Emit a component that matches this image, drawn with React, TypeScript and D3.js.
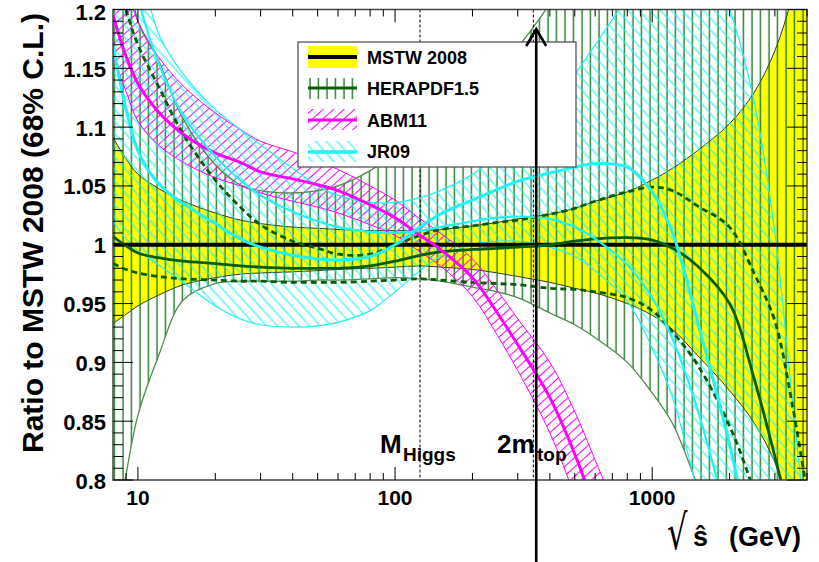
import React from "react";
import * as d3 from "d3";

// Partonic centre-of-mass energy grid (GeV)
const sqrtS = [8, 9, 10, 12, 15, 20, 25, 30, 40, 50, 60, 80, 100, 125, 150, 200, 250, 300, 400, 500, 600, 800, 1000, 1200, 1500, 2000, 2500, 3000, 3500, 4000];

// MSTW 2008 (reference set) 68% C.L. band
const mstwUpper = [1.091, 1.073, 1.06, 1.048, 1.037, 1.027, 1.021, 1.018, 1.015, 1.014, 1.013, 1.012, 1.012, 1.012, 1.013, 1.016, 1.019, 1.022, 1.026, 1.031, 1.037, 1.045, 1.055, 1.065, 1.08, 1.103, 1.13, 1.165, 1.21, 1.26];
const mstwLower = [0.933, 0.941, 0.948, 0.957, 0.966, 0.972, 0.975, 0.976, 0.977, 0.978, 0.979, 0.98, 0.981, 0.982, 0.981, 0.979, 0.976, 0.973, 0.968, 0.963, 0.959, 0.95, 0.94, 0.928, 0.906, 0.876, 0.848, 0.815, 0.77, 0.72];

// HERAPDF1.5: total band, central value, experimental band (dashed)
const herapdfUpper = [1.32, 1.25, 1.19, 1.157, 1.107, 1.068, 1.051, 1.046, 1.044, 1.046, 1.05, 1.063, 1.078, 1.097, 1.112, 1.132, 1.15, 1.168, 1.205, 1.24, 1.28, 1.33, 1.38, 1.42, 1.46, 1.5, 1.5, 1.5, 1.5, 1.5];
const herapdfLower = [0.74, 0.805, 0.855, 0.905, 0.953, 0.967, 0.969, 0.969, 0.969, 0.97, 0.97, 0.971, 0.972, 0.971, 0.969, 0.964, 0.96, 0.955, 0.942, 0.932, 0.921, 0.9, 0.874, 0.848, 0.795, 0.72, 0.65, 0.6, 0.55, 0.5];
const herapdfCentral = [1.007, 0.999, 0.993, 0.989, 0.986, 0.984, 0.982, 0.981, 0.98, 0.98, 0.98, 0.982, 0.986, 0.991, 0.994, 0.996, 0.997, 0.998, 1.0, 1.003, 1.005, 1.006, 1.004, 0.997, 0.982, 0.95, 0.885, 0.82, 0.76, 0.7];
const herapdfExpUpper = [1.25, 1.2, 1.17, 1.135, 1.094, 1.055, 1.032, 1.017, 1.003, 0.997, 0.992, 0.992, 1.0, 1.008, 1.013, 1.016, 1.019, 1.021, 1.026, 1.031, 1.037, 1.045, 1.049, 1.046, 1.033, 1.015, 0.975, 0.935, 0.865, 0.79];
const herapdfExpLower = [0.984, 0.979, 0.976, 0.973, 0.971, 0.97, 0.969, 0.969, 0.968, 0.968, 0.968, 0.969, 0.97, 0.971, 0.97, 0.968, 0.967, 0.966, 0.963, 0.962, 0.96, 0.955, 0.944, 0.926, 0.898, 0.846, 0.79, 0.74, 0.7, 0.65];

// ABM11
const abmCentral = [1.195, 1.16, 1.137, 1.113, 1.094, 1.078, 1.07, 1.062, 1.056, 1.051, 1.046, 1.034, 1.023, 1.008, 0.996, 0.972, 0.942, 0.915, 0.87, 0.822, 0.775, 0.7, 0.64, 0.6, 0.55, 0.5, 0.45, 0.4, 0.35, 0.3];
const abmUpper = [1.26, 1.22, 1.19, 1.16, 1.135, 1.112, 1.098, 1.088, 1.079, 1.071, 1.064, 1.05, 1.038, 1.022, 1.01, 0.988, 0.961, 0.937, 0.9, 0.858, 0.817, 0.75, 0.69, 0.64, 0.6, 0.55, 0.5, 0.45, 0.4, 0.35];
const abmLower = [1.16, 1.13, 1.105, 1.085, 1.07, 1.057, 1.05, 1.044, 1.037, 1.032, 1.027, 1.017, 1.008, 0.994, 0.982, 0.956, 0.923, 0.893, 0.84, 0.786, 0.733, 0.65, 0.6, 0.55, 0.5, 0.45, 0.4, 0.35, 0.3, 0.25];

// JR09
const jr09Upper = [1.4, 1.3, 1.25, 1.18, 1.145, 1.115, 1.098, 1.085, 1.065, 1.05, 1.042, 1.036, 1.036, 1.04, 1.046, 1.06, 1.075, 1.09, 1.12, 1.145, 1.17, 1.21, 1.24, 1.26, 1.26, 1.2, 1.12, 1.01, 0.87, 0.75];
const jr09Lower = [1.02, 1.005, 0.995, 0.983, 0.968, 0.948, 0.937, 0.932, 0.93, 0.931, 0.934, 0.944, 0.96, 0.978, 0.99, 1.0, 1.003, 1.003, 0.998, 0.99, 0.978, 0.952, 0.912, 0.87, 0.79, 0.68, 0.6, 0.55, 0.5, 0.45];
const jr09Central = [1.17, 1.115, 1.08, 1.052, 1.035, 1.018, 1.005, 0.998, 0.991, 0.988, 0.987, 0.99, 1.0, 1.015, 1.026, 1.038, 1.047, 1.054, 1.061, 1.066, 1.069, 1.066, 1.045, 1.01, 0.935, 0.83, 0.73, 0.65, 0.6, 0.55];
const jr09Alt = [1.32, 1.26, 1.21, 1.155, 1.11, 1.075, 1.055, 1.042, 1.028, 1.02, 1.015, 1.011, 1.01, 1.012, 1.015, 1.02, 1.023, 1.024, 1.022, 1.015, 1.005, 0.983, 0.955, 0.92, 0.86, 0.76, 0.68, 0.6, 0.55, 0.5];

// Axis ticks and labels
const xTickLabels = [10, 100, 1000];
const xMinorTicks = [9, 20, 30, 40, 50, 60, 70, 80, 90, 200, 300, 400, 500, 600, 700, 800, 900, 2000, 3000, 4000];
const yMajorTicks = [0.8, 0.85, 0.9, 0.95, 1, 1.05, 1.1, 1.15, 1.2];
const yTickLabels = ["0.8", "0.85", "0.9", "0.95", "1", "1.05", "1.1", "1.15", "1.2"];

// Reference masses
const mHiggs = 125;
const twoMtop = 345;
const arrowEnergy = 354;

const legendEntries = ["MSTW 2008", "HERAPDF1.5", "ABM11", "JR09"];

const W = 819;
const H = 562;
const PL = 113, PR = 807, PT = 9.5, PB = 480;
const FONT = "'Liberation Sans', Arial, Helvetica, sans-serif";

const GREEN_HATCH = "#157215";
const GREEN_EDGE = "#4f8a4f";
const GREEN_LINE = "#0a5c0a";
const MAGENTA = "#ff00ff";
const CYAN = "#22f2f2";

export default function App() {
  const x = d3.scaleLog().domain([8, 4000]).range([PL, PR]);
  const y = d3.scaleLinear().domain([0.8, 1.2]).range([PB, PT]);
  const idx = d3.range(sqrtS.length);
  const curve = d3.curveCatmullRom.alpha(0.5);

  const line = (vals: number[]) =>
    d3.line<number>().x((i) => x(sqrtS[i])).y((i) => y(vals[i])).curve(curve)(idx) || "";
  const band = (lo: number[], hi: number[]) =>
    d3.area<number>().x((i) => x(sqrtS[i])).y0((i) => y(lo[i])).y1((i) => y(hi[i])).curve(curve)(idx) || "";

  const one = y(1);
  const ax = x(arrowEnergy);

  return (
    <svg width={W} height={H} style={{ position: "absolute", left: 0, top: 0, background: "#fff" }} fontFamily={FONT}>
      <defs>
        <clipPath id="plotClip">
          <rect x={PL} y={PT} width={PR - PL} height={PB - PT} />
        </clipPath>
        <pattern id="hatchGreen" patternUnits="userSpaceOnUse" width={8.5} height={10}>
          <line x1={4} y1={0} x2={4} y2={10} stroke={GREEN_HATCH} strokeWidth={1.3} />
        </pattern>
        <pattern id="hatchCyan" patternUnits="userSpaceOnUse" width={10} height={8} patternTransform="rotate(48)">
          <line x1={0} y1={4} x2={10} y2={4} stroke={CYAN} strokeWidth={1.1} />
        </pattern>
        <pattern id="hatchMagenta" patternUnits="userSpaceOnUse" width={10} height={7} patternTransform="rotate(-42)">
          <line x1={0} y1={3.5} x2={10} y2={3.5} stroke={MAGENTA} strokeWidth={1} />
        </pattern>
      </defs>

      <g clipPath="url(#plotClip)">
        {/* MSTW 2008 band */}
        <path d={band(mstwLower, mstwUpper)} fill="#ffff00" />
        <path d={line(mstwUpper)} fill="none" stroke="#333" strokeWidth={1} />
        <path d={line(mstwLower)} fill="none" stroke="#333" strokeWidth={1} />

        {/* hatched bands */}
        <path d={band(herapdfLower, herapdfUpper)} fill="url(#hatchGreen)" />
        <path d={band(abmLower, abmUpper)} fill="url(#hatchMagenta)" />
        <path d={band(jr09Lower, jr09Upper)} fill="url(#hatchCyan)" />

        {/* band edges */}
        <path d={line(herapdfUpper)} fill="none" stroke={GREEN_EDGE} strokeWidth={1.3} />
        <path d={line(herapdfLower)} fill="none" stroke={GREEN_EDGE} strokeWidth={1.3} />
        <path d={line(abmUpper)} fill="none" stroke={MAGENTA} strokeWidth={1} />
        <path d={line(abmLower)} fill="none" stroke={MAGENTA} strokeWidth={1} />
        <path d={line(jr09Upper)} fill="none" stroke={CYAN} strokeWidth={1.2} />
        <path d={line(jr09Lower)} fill="none" stroke={CYAN} strokeWidth={1.2} />

        {/* MSTW central value */}
        <line x1={PL} x2={PR} y1={one} y2={one} stroke="#000" strokeWidth={4} />

        {/* reference masses */}
        {[mHiggs, twoMtop].map((m) => (
          <line key={m} x1={x(m)} x2={x(m)} y1={PT} y2={PB} stroke="#000" strokeWidth={1} strokeDasharray="3,2" />
        ))}

        {/* central values */}
        <path d={line(herapdfExpUpper)} fill="none" stroke={GREEN_LINE} strokeWidth={2.8} strokeDasharray="6,4" />
        <path d={line(herapdfExpLower)} fill="none" stroke={GREEN_LINE} strokeWidth={2.8} strokeDasharray="6,4" />
        <path d={line(herapdfCentral)} fill="none" stroke={GREEN_LINE} strokeWidth={2.8} />
        <path d={line(abmCentral)} fill="none" stroke={MAGENTA} strokeWidth={3} />
        <path d={line(jr09Alt)} fill="none" stroke={CYAN} strokeWidth={2.2} />
        <path d={line(jr09Central)} fill="none" stroke={CYAN} strokeWidth={3} />
      </g>

      {/* frame */}
      <rect x={PL} y={PT} width={PR - PL} height={PB - PT} fill="none" stroke="#444" strokeWidth={1.5} />

      {/* x ticks, bottom and top; y ticks, left and right */}
      <g stroke="#000" strokeWidth={1}>
        {xTickLabels.map((t) => (
          <g key={"M" + t}>
            <line x1={x(t)} x2={x(t)} y1={PB} y2={PB - 13} />
            <line x1={x(t)} x2={x(t)} y1={PT} y2={PT + 13} />
          </g>
        ))}
        {xMinorTicks.map((t) => (
          <g key={"m" + t}>
            <line x1={x(t)} x2={x(t)} y1={PB} y2={PB - 7} />
            <line x1={x(t)} x2={x(t)} y1={PT} y2={PT + 7} />
          </g>
        ))}
        {d3.range(80, 121).map((k) => {
          const yy = y(k / 100);
          const len = k % 5 === 0 ? 20 : 10;
          return (
            <g key={"y" + k}>
              <line x1={PL} x2={PL + len} y1={yy} y2={yy} />
              <line x1={PR} x2={PR - len} y1={yy} y2={yy} />
            </g>
          );
        })}
      </g>

      {/* tick labels */}
      <g fontWeight="bold" fontSize={22} fill="#000">
        {yMajorTicks.map((t, i) => (
          <text key={t} x={106} y={Math.max(y(t) + 8.5, 20)} textAnchor="end">{yTickLabels[i]}</text>
        ))}
        {xTickLabels.map((t) => (
          <text key={t} x={x(t)} y={505} textAnchor="middle" fontSize={21}>{t}</text>
        ))}
      </g>

      {/* axis titles */}
      <text transform="translate(43,233) rotate(-90)" textAnchor="middle" fontWeight="bold" fontSize={30}>
        Ratio to MSTW 2008 (68% C.L.)
      </text>
      <text transform="translate(667,549) scale(0.8,1.2)" fontSize={40} fontFamily="'DejaVu Sans', sans-serif">√</text>
      <text x={693} y={546} fontSize={27} fontWeight="bold">ŝ</text>
      <text x={729} y={546} fontSize={27} fontWeight="bold">(GeV)</text>

      {/* mass labels */}
      <text x={380} y={453} fontSize={26} fontWeight="bold">M</text>
      <text x={403} y={461} fontSize={19} fontWeight="bold">Higgs</text>
      <text x={497} y={453} fontSize={26} fontWeight="bold">2m</text>
      <text x={537} y={461} fontSize={19} fontWeight="bold">top</text>

      {/* legend */}
      <g>
        <rect x={298} y={42} width={278} height={125} fill="#fff" stroke="#555" strokeWidth={1.3} />
        <rect x={308} y={46} width={49} height={22} fill="#ffff00" />
        <line x1={308} x2={357} y1={57} y2={57} stroke="#000" strokeWidth={4} />
        <rect x={308} y={78} width={49} height={21} fill="url(#hatchGreen)" />
        <line x1={308} x2={357} y1={88} y2={88} stroke={GREEN_LINE} strokeWidth={3} />
        <rect x={308} y={109} width={49} height={21} fill="url(#hatchMagenta)" />
        <line x1={308} x2={357} y1={120} y2={120} stroke={MAGENTA} strokeWidth={3} />
        <rect x={308} y={141} width={49} height={21} fill="url(#hatchCyan)" />
        <line x1={308} x2={357} y1={152} y2={152} stroke={CYAN} strokeWidth={3.5} />
        {legendEntries.map((s, i) => (
          <text key={s} x={367} y={64 + i * 31.3} fontSize={18} fontWeight="bold">{s}</text>
        ))}
      </g>

      {/* arrow marking the top-pair threshold */}
      <g stroke="#000" strokeWidth={2.6} fill="none">
        <line x1={ax} x2={ax} y1={H} y2={29} />
        <polyline points={`${ax - 10},46 ${ax},29 ${ax + 10},46`} />
      </g>
    </svg>
  );
}
